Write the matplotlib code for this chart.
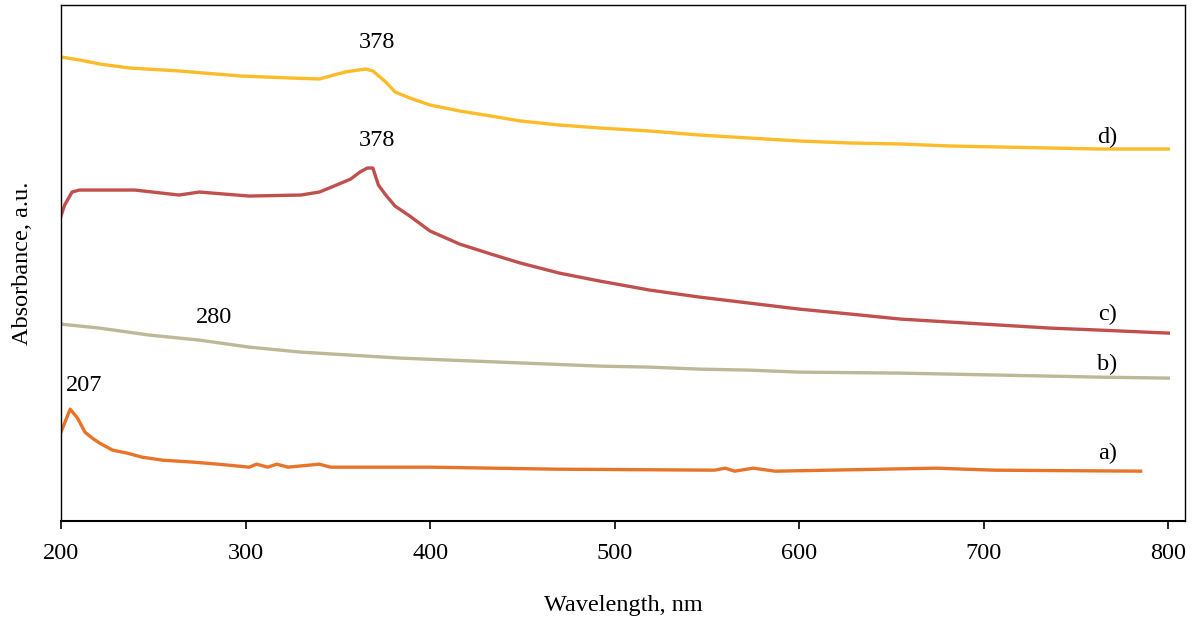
import numpy as np
import matplotlib.pyplot as plt

plt.rcParams['font.family'] = ['Liberation Serif', 'DejaVu Serif']

# spectra (absorbance, arbitrary units, stacked)
wl_d = [200, 210, 221, 237, 264, 297, 324, 340, 346, 354, 365, 369, 376, 381, 389, 400, 416, 433,
        449, 470, 492, 519, 546, 573, 600, 628, 655, 682, 709, 736, 763, 800]
abs_d = [4.64, 4.61, 4.57, 4.53, 4.50, 4.45, 4.43, 4.42, 4.45, 4.49, 4.52, 4.50, 4.39, 4.29, 4.23,
         4.16, 4.10, 4.05, 4.00, 3.96, 3.93, 3.90, 3.86, 3.83, 3.80, 3.78, 3.77, 3.75, 3.74, 3.73,
         3.72, 3.72]

wl_c = [200, 202, 206, 210, 240, 264, 275, 302, 330, 340, 348, 357, 362, 366, 369, 372, 376, 381,
        389, 400, 416, 433, 449, 470, 492, 519, 546, 573, 600, 628, 655, 682, 709, 736, 763, 800]
abs_c = [3.05, 3.16, 3.29, 3.31, 3.31, 3.26, 3.29, 3.25, 3.26, 3.29, 3.35, 3.42, 3.49, 3.53, 3.53,
         3.36, 3.26, 3.15, 3.05, 2.90, 2.77, 2.67, 2.58, 2.48, 2.40, 2.31, 2.24, 2.18, 2.12, 2.07,
         2.02, 1.99, 1.96, 1.93, 1.91, 1.88]

wl_b = [200, 221, 248, 275, 302, 330, 357, 384, 411, 438, 465, 492, 519, 546, 573, 600, 655, 709,
        763, 800]
abs_b = [1.97, 1.93, 1.86, 1.81, 1.74, 1.69, 1.66, 1.63, 1.61, 1.59, 1.57, 1.55, 1.54, 1.52, 1.51,
         1.49, 1.48, 1.46, 1.44, 1.43]

wl_a = [200, 205, 209, 213, 217, 221, 228, 236, 244, 255, 272, 285, 302, 306, 312, 317, 323, 340,
        346, 400, 468, 554, 560, 565, 575, 587, 674, 706, 785]
abs_a = [0.89, 1.12, 1.03, 0.89, 0.83, 0.78, 0.71, 0.68, 0.64, 0.61, 0.59, 0.57, 0.54, 0.57, 0.54,
         0.57, 0.54, 0.57, 0.54, 0.54, 0.52, 0.51, 0.53, 0.50, 0.53, 0.50, 0.53, 0.51, 0.50]

curves = [(wl_a, abs_a, '#E8742A', 'a)', 0.68),
          (wl_b, abs_b, '#BCB898', 'b)', 1.57),
          (wl_c, abs_c, '#C0504D', 'c)', 2.07),
          (wl_d, abs_d, '#FCBC2A', 'd)', 3.84)]

# peak annotations
peak_txt = ['378', '378', '280', '207']
peak_x = [371, 371, 283, 212.5]
peak_y = [4.78, 3.81, 2.04, 1.36]

fig = plt.figure(figsize=(11.95, 6.19), dpi=100)
ax = fig.add_axes([0.051, 0.158, 0.9406, 0.834])

for wl, ab, col, lab, ly in curves:
    ax.plot(wl, ab, color=col, lw=2.4, solid_joinstyle='round')
    ax.text(767, ly, lab, fontsize=17.5, ha='center', va='center')

for t, px, py in zip(peak_txt, peak_x, peak_y):
    ax.text(px, py, t, fontsize=17.5, ha='center', va='center')

ax.set_xlim(200, 809)
ax.set_ylim(0, 5.16)
ax.set_xticks([200, 300, 400, 500, 600, 700, 800])
ax.set_yticks([])
ax.tick_params(axis='x', labelsize=17.5, direction='out', length=6, width=1.2, pad=10)
for s in ax.spines.values():
    s.set_linewidth(1.0)
ax.spines['bottom'].set_linewidth(1.5)
ax.set_xlabel('Wavelength, nm', fontsize=17.5, labelpad=22)
ax.set_ylabel('Absorbance, a.u.', fontsize=17.5, labelpad=20)

fig.savefig('out.png', dpi=100)
